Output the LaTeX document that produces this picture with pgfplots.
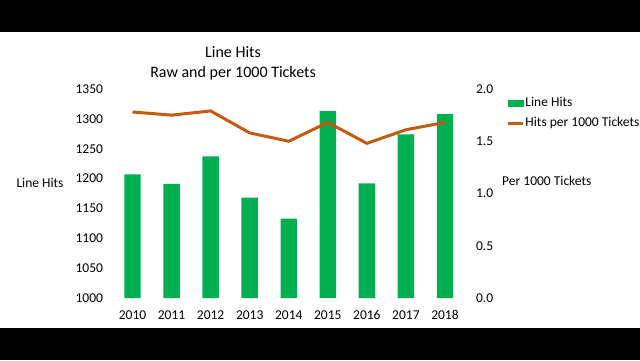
\documentclass[border=0pt]{standalone}
\usepackage{fontspec}
\setmainfont{Carlito}
\usepackage{pgfplots}
\pgfplotsset{compat=1.18}
\definecolor{barg}{HTML}{00B050}
\definecolor{lineo}{HTML}{C55A11}
\newcommand{\tfont}{\fontsize{13.5bp}{16bp}\selectfont}
\begin{document}
\begin{tikzpicture}[x=1bp,y=1bp]
\fill[black] (0,0) rectangle (640,360);
\fill[white] (0,32) rectangle (640,328);
\useasboundingbox (0,0) rectangle (640,360);
\pgfplotsset{
  common/.style={
    at={(113bp,62bp)}, anchor=south west, scale only axis,
    width=351.5bp, height=209bp,
    xmin=-0.5, xmax=8.5,
    axis line style={draw=none}, major tick length=0pt,
    tick label style={font=\tfont},
    /pgf/number format/assume math mode=true,
    /pgf/number format/1000 sep={},
  }
}
\begin{axis}[common,
  ymin=1000, ymax=1350, ytick={1000,1050,...,1350},
  xtick={0,...,8}, xticklabels={2010,2011,2012,2013,2014,2015,2016,2017,2018},
  yticklabel style={xshift=-6.5bp},
  xticklabel style={yshift=-9bp},
]
\addplot[ybar, bar width=16.4bp, fill=barg, draw=none] coordinates {
(0,1207) (1,1191) (2,1237) (3,1168) (4,1133) (5,1313) (6,1192) (7,1274) (8,1308)};
\end{axis}
\begin{axis}[common,
  ymin=0, ymax=2, ytick={0,0.5,...,2},
  xtick=\empty,
  yticklabel pos=right,
  yticklabel style={xshift=8bp, /pgf/number format/.cd, fixed, fixed zerofill, precision=1},
  legend style={at={(axis description cs:1.12,0.9665)}, anchor=north west, draw=none, fill=none,
    inner sep=0pt, font=\tfont, row sep=5.5bp,
    nodes={inner sep=1bp, text height=9.5bp, text depth=3bp}},
  legend cell align=left,
]
\addlegendimage{legend image code/.code={\fill[barg] (0bp,-3bp) rectangle (14.6bp,3bp);}}
\addlegendentry{Line Hits}
\addplot[lineo, line width=3bp, legend image code/.code={\draw[lineo, line width=3bp] (0bp,0bp) -- (14.6bp,0bp);}] coordinates {
(0,1.78) (1,1.75) (2,1.79) (3,1.58) (4,1.50) (5,1.68) (6,1.48) (7,1.61) (8,1.68)};
\addlegendentry{Hits per 1000 Tickets}
\end{axis}
\node[font=\tfont] at (40,176.7) {Line Hits};
\node[font=\tfont] at (546.8,179) {Per 1000 Tickets};
\node[font=\fontsize{16bp}{20bp}\selectfont, align=center] at (233,297) {Line Hits\\Raw and per 1000 Tickets};
\end{tikzpicture}
\end{document}
